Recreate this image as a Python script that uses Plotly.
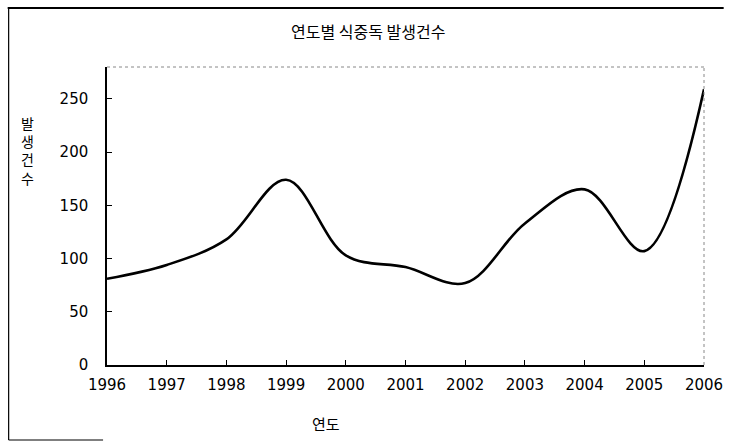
import plotly.graph_objects as go

years = [1996, 1997, 1998, 1999, 2000, 2001, 2002, 2003, 2004, 2005, 2006]
cases = [81, 94, 118, 174, 103, 92, 77, 133, 165, 107, 259]
y_ticks = [0, 50, 100, 150, 200, 250]

W, H = 735, 447
L, R, T, B = 107, 21, 67, 82
pw, ph = W - L - R, H - T - B

def px(x):
    return (x - L) / pw

def py(y):
    return (H - B - y) / ph

fig = go.Figure()
fig.add_trace(go.Scatter(
    x=years, y=cases, mode="lines",
    line=dict(color="black", width=2.6, shape="spline", smoothing=1.0),
    hoverinfo="skip", showlegend=False,
))

tick_font = dict(family="DejaVu Sans, sans-serif", size=15, color="black")
kfont = "Noto Sans CJK KR, sans-serif"

fig.update_layout(
    width=W, height=H,
    margin=dict(l=L, r=R, t=T, b=B),
    paper_bgcolor="white", plot_bgcolor="white",
    xaxis=dict(
        range=[1996, 2006], tickvals=years, ticktext=[str(y) for y in years],
        ticks="inside", ticklen=5, tickcolor="black", tickwidth=1,
        showline=True, linecolor="black", linewidth=1.5,
        showgrid=False, zeroline=False, tickfont=tick_font,
        ticklabelstandoff=5,
    ),
    yaxis=dict(
        range=[0, 280], tickvals=y_ticks,
        ticks="inside", ticklen=5, tickcolor="black", tickwidth=1,
        showline=True, linecolor="black", linewidth=1.5,
        showgrid=False, zeroline=False, tickfont=tick_font,
        ticklabelstandoff=14,
    ),
    shapes=[
        dict(type="line", xref="paper", yref="paper", x0=0, x1=1, y0=1, y1=1,
             line=dict(color="#888888", width=1, dash="dot")),
        dict(type="line", xref="paper", yref="paper", x0=1, x1=1, y0=0, y1=1,
             line=dict(color="#888888", width=1, dash="dot")),
        dict(type="line", xref="paper", yref="paper", x0=px(7), x1=px(7), y0=py(7), y1=py(440),
             line=dict(color="black", width=1.2)),
        dict(type="line", xref="paper", yref="paper", x0=px(6), x1=px(734), y0=py(8), y1=py(8),
             line=dict(color="black", width=2)),
        dict(type="line", xref="paper", yref="paper", x0=px(7), x1=px(103), y0=py(440), y1=py(440),
             line=dict(color="black", width=1.2)),
    ],
    annotations=[
        dict(text="연도별 식중독 발생건수", xref="paper", yref="paper",
             x=px(372), y=py(31), showarrow=False, xanchor="center", yanchor="middle",
             font=dict(family=kfont, size=16, color="black")),
        dict(text="발<br>생<br>건<br>수", xref="paper", yref="paper",
             x=px(26), y=py(150), showarrow=False, xanchor="center", yanchor="middle",
             font=dict(family=kfont, size=14, color="black")),
        dict(text="연도", xref="paper", yref="paper",
             x=px(330), y=py(424), showarrow=False, xanchor="center", yanchor="middle",
             font=dict(family=kfont, size=15, color="black")),
    ],
)

fig.write_html(
    "out.html",
    config={"displayModeBar": False},
    post_script="document.body.style.margin='0';document.body.style.overflow='hidden';",
)
